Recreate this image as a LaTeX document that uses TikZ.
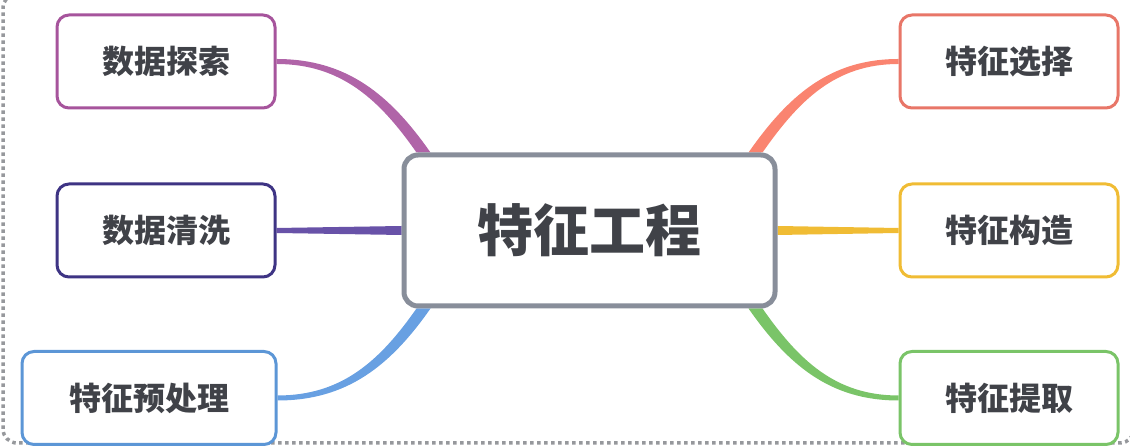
\documentclass[tikz,border=0pt]{standalone}
\usepackage{fontspec}
\newfontfamily\cjk{Noto Sans CJK SC}
\usetikzlibrary{backgrounds}

\definecolor{inkgray}{RGB}{64,66,72}
\definecolor{coregray}{RGB}{136,142,154}
\definecolor{framegray}{RGB}{150,152,156}
\definecolor{cexplore}{RGB}{166,84,156}
\definecolor{lexplore}{RGB}{176,100,168}
\definecolor{cclean}{RGB}{62,52,132}
\definecolor{lclean}{RGB}{104,82,168}
\definecolor{cprep}{RGB}{92,150,214}
\definecolor{lprep}{RGB}{104,160,226}
\definecolor{cselect}{RGB}{232,118,104}
\definecolor{lselect}{RGB}{250,132,112}
\definecolor{cbuild}{RGB}{240,188,52}
\definecolor{cextract}{RGB}{122,196,104}

\begin{document}
\begin{tikzpicture}[x=1pt,y=1pt,
  leaf/.style={draw, line width=3pt, rounded corners=12pt, fill=white,
    inner sep=0pt, minimum width=218pt, minimum height=93pt, text=inkgray,
    font=\cjk\bfseries\fontsize{32}{36}\selectfont},
  root/.style={draw=coregray, line width=5pt, rounded corners=14pt, fill=white,
    inner sep=0pt, minimum width=371pt, minimum height=151pt, text=inkgray,
    font=\cjk\bfseries\fontsize{56}{60}\selectfont}]
\useasboundingbox (0,0) rectangle (1130,446);

\node[root] (core) at (589.5,215.5) {特征工程};

\node[leaf, draw=cexplore] (l1) at (166,384.5) {数据探索};
\node[leaf, draw=cclean] (l2) at (166,215.5) {数据清洗};
\node[leaf, draw=cprep, minimum width=254pt] (l3) at (149,48) {特征预处理};

\node[leaf, draw=cselect] (r1) at (1009,384.5) {特征选择};
\node[leaf, draw=cbuild] (r2) at (1009,215.5) {特征构造};
\node[leaf, draw=cextract] (r3) at (1009,48) {特征提取};

\begin{pgfonlayer}{background}
% frame
\draw[framegray, line width=3.5pt, dash pattern=on 3.5pt off 3.5pt, rounded corners=14pt]
  (3,3) rectangle (1134,452);
% left branches
\fill[lexplore] ([yshift=2.5pt]l1.east) to[out=0,in=125] ([xshift=29pt]core.north west)
  -- ([xshift=15pt]core.north west) to[out=125,in=0] ([yshift=-2.5pt]l1.east) -- cycle;
\fill[lclean] ([yshift=2.5pt]l2.east) -- ([yshift=4.5pt]core.west)
  -- ([yshift=-4.5pt]core.west) -- ([yshift=-2.5pt]l2.east) -- cycle;
\fill[lprep] ([yshift=-2.5pt]l3.east) to[out=0,in=-125] ([xshift=29pt]core.south west)
  -- ([xshift=15pt]core.south west) to[out=-125,in=0] ([yshift=2.5pt]l3.east) -- cycle;
% right branches
\fill[lselect] ([yshift=2.5pt]r1.west) to[out=180,in=55] ([xshift=-29pt]core.north east)
  -- ([xshift=-15pt]core.north east) to[out=55,in=180] ([yshift=-2.5pt]r1.west) -- cycle;
\fill[cbuild] ([yshift=2.5pt]r2.west) -- ([yshift=4.5pt]core.east)
  -- ([yshift=-4.5pt]core.east) -- ([yshift=-2.5pt]r2.west) -- cycle;
\fill[cextract] ([yshift=-2.5pt]r3.west) to[out=180,in=-55] ([xshift=-29pt]core.south east)
  -- ([xshift=-15pt]core.south east) to[out=-55,in=180] ([yshift=2.5pt]r3.west) -- cycle;
\end{pgfonlayer}
\end{tikzpicture}
\end{document}
